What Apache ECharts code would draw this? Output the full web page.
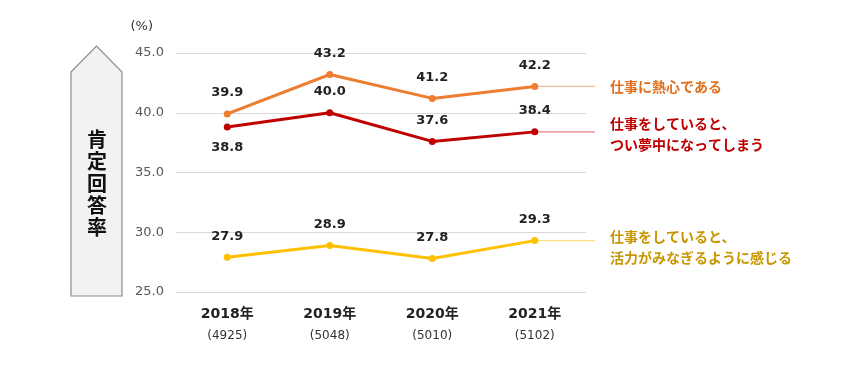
<!DOCTYPE html>
<html><head><meta charset="utf-8">
<script src="https://cdn.jsdelivr.net/npm/echarts@6/dist/echarts.min.js"></script>
<style>html,body{margin:0;padding:0;background:#fff}#c{width:846px;height:370px}</style>
</head><body><div id="c"></div>
<script>
const years = ['2018年','2019年','2020年','2021年'];
const counts = ['(4925)','(5048)','(5010)','(5102)'];
const enthusiasm = [39.9, 43.2, 41.2, 42.2];
const absorption = [38.8, 40.0, 37.6, 38.4];
const vigor = [27.9, 28.9, 27.8, 29.3];
const seriesNames = ['仕事に熱心である', '仕事をしていると、\nつい夢中になってしまう', '仕事をしていると、\n活力がみなぎるように感じる'];
const yTicks = {min: 25, max: 45, interval: 5};

const FONT = '"DejaVu Sans","Noto Sans CJK JP",sans-serif';
const colors = ['#ED7D31', '#C00000', '#FFC000'];
const lightColors = ['#F6BE98', '#E08080', '#FFE080'];
const textColors = ['#E07020', '#C00000', '#C89600'];
const textTopOffset = [-10, -19, -14];
const chart = echarts.init(document.getElementById('c'));
function mk(name, data, idx, labelPos) {
  return {
    name, type: 'line', symbol: 'circle', symbolSize: 7,
    data: data.map((v, i) => ({value: v, label: {position: labelPos ? labelPos[i] : 'top'}})),
    lineStyle: {color: colors[idx], width: 3}, itemStyle: {color: colors[idx]},
    label: {show: true, fontFamily: FONT, fontWeight: 'bold', fontSize: 13, color: '#222', distance: 11,
      formatter: p => p.value.toFixed(1)},
    z: 3 - idx
  };
}
chart.setOption({
  animation: false,
  grid: {left: 176, right: 260, top: 53, bottom: 78},
  xAxis: {
    type: 'category', data: years,
    axisLine: {show: false}, axisTick: {show: false},
    axisLabel: {
      margin: 11,
      formatter: (v, i) => '{y|' + v + '}\n{c|' + counts[i] + '}',
      rich: {
        y: {fontFamily: FONT, fontWeight: 'bold', fontSize: 14, color: '#222', lineHeight: 22},
        c: {fontFamily: FONT, fontSize: 12, color: '#333', lineHeight: 22}
      }
    }
  },
  yAxis: {
    type: 'value', min: yTicks.min, max: yTicks.max, interval: yTicks.interval,
    axisLabel: {formatter: v => v.toFixed(1), fontFamily: FONT, fontSize: 13, color: '#595959', margin: 12},
    splitLine: {lineStyle: {color: '#D9D9D9', width: 1}},
    name: '(%)', nameLocation: 'end', nameGap: 20,
    nameTextStyle: {fontFamily: FONT, fontSize: 13, color: '#333', align: 'right', padding: [0, 23, 0, 0]}
  },
  series: [
    mk(seriesNames[0], enthusiasm, 0),
    mk(seriesNames[1], absorption, 1, ['bottom', 'top', 'top', 'top']),
    mk(seriesNames[2], vigor, 2)
  ]
});

const allData = [enthusiasm, absorption, vigor];
const graphics = [
  {type: 'polygon', shape: {points: [[71, 72], [96.5, 46], [122, 72], [122, 296], [71, 296]]},
   style: {fill: '#F2F2F2', stroke: '#8C8C8C', lineWidth: 1.2}},
  {type: 'text', style: {text: '肯\n定\n回\n答\n率', x: 97, y: 183, align: 'center', verticalAlign: 'middle',
    font: 'bold 20px "Noto Sans CJK JP",sans-serif', fill: '#111', lineHeight: 22}}
];
allData.forEach((d, i) => {
  const last = d.length - 1;
  const p = chart.convertToPixel({seriesIndex: i}, [last, d[last]]);
  graphics.push({type: 'line', shape: {x1: p[0], y1: p[1], x2: 595, y2: p[1]},
    style: {stroke: lightColors[i], lineWidth: 1.2}, z: 1});
  graphics.push({type: 'text', style: {text: seriesNames[i], x: 610, y: p[1] + textTopOffset[i],
    verticalAlign: 'top', fill: textColors[i],
    font: 'bold 14px "Noto Sans CJK JP",sans-serif', lineHeight: 21}});
});
chart.setOption({graphic: graphics});
</script></body></html>
